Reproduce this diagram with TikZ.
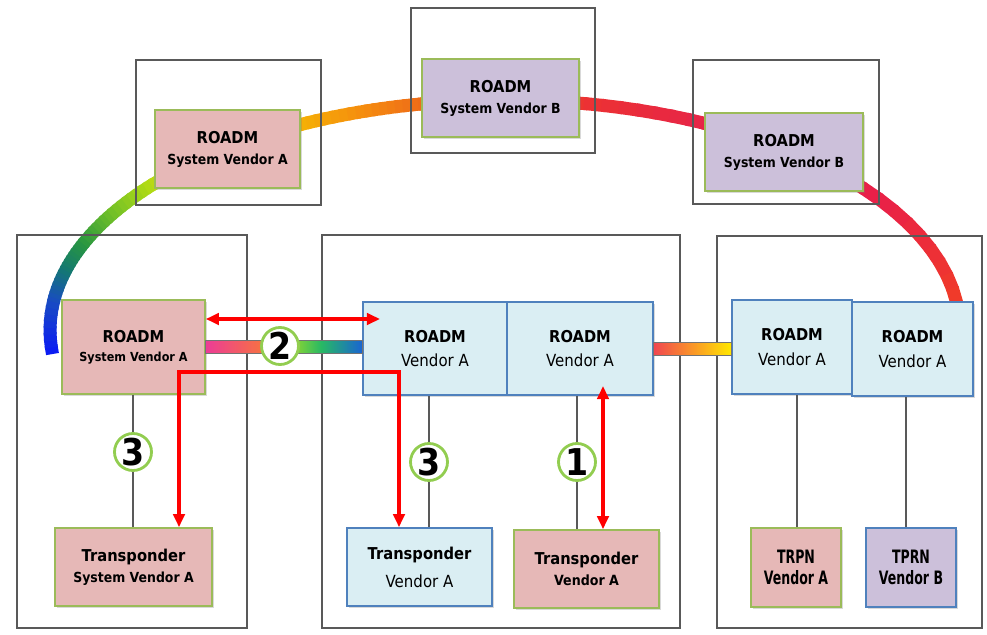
\documentclass[tikz,border=0pt]{standalone}
\usepackage{fontspec}
\setmainfont{DejaVu Sans}[FakeStretch=0.9]
\newfontfamily\narrowfont{DejaVu Sans}[FakeStretch=0.68]
\usetikzlibrary{arrows.meta,calc,shadows}

\definecolor{pinkfill}{RGB}{230,184,183}
\definecolor{lavfill}{RGB}{204,192,218}
\definecolor{bluefill}{RGB}{218,238,243}
\definecolor{greenedge}{RGB}{155,187,89}
\definecolor{blueedge}{RGB}{79,129,189}
\definecolor{sitegray}{RGB}{89,89,89}
\definecolor{numgreen}{RGB}{146,205,80}
% ring colours
\definecolor{rbA}{RGB}{10,25,245}
\definecolor{rbB}{RGB}{25,75,195}
\definecolor{rbC}{RGB}{20,120,115}
\definecolor{rbD}{RGB}{40,150,65}
\definecolor{rbE}{RGB}{110,190,40}
\definecolor{rbF}{RGB}{180,220,20}
\definecolor{rbG}{RGB}{245,178,5}
\definecolor{rbH}{RGB}{245,140,15}
\definecolor{rbI}{RGB}{238,105,25}
\definecolor{rbJ}{RGB}{236,50,50}
\definecolor{rbK}{RGB}{230,35,75}
\definecolor{rbL}{RGB}{232,32,72}
\definecolor{rbM}{RGB}{240,60,40}
% bar colours
\definecolor{barPink}{RGB}{236,60,150}
\definecolor{barOrange}{RGB}{250,130,40}
\definecolor{barLime}{RGB}{190,228,25}
\definecolor{barGreen}{RGB}{40,185,100}
\definecolor{barBlue}{RGB}{25,100,210}
\definecolor{barRed}{RGB}{240,70,80}
\definecolor{barAmber}{RGB}{250,150,40}
\definecolor{barYellow}{RGB}{255,232,0}

\newcommand{\boldln}[2]{{\fontsize{#1}{#1}\selectfont\bfseries #2}}
\newcommand{\plainln}[2]{{\fontsize{#1}{#1}\selectfont #2}}

\tikzset{
  site/.style={draw=sitegray, line width=0.85pt},
  dev/.style 2 args={rectangle, inner sep=0pt, align=center, line width=0.9pt,
    minimum width=#1*0.02cm, minimum height=#2*0.02cm,
    drop shadow={shadow xshift=1.2pt, shadow yshift=-1.4pt, opacity=0.3}},
  pinkbox/.style={fill=pinkfill, draw=greenedge},
  lavbox/.style={fill=lavfill, draw=greenedge},
  bluebox/.style={fill=bluefill, draw=blueedge},
  rowgap/.style={font=\fontsize{9}{#1}\selectfont},
  ring/.style={line width=0.26cm, line cap=butt},
  baredge/.style={draw=black!55, line width=0.5pt},
  conn/.style={draw=black!65, line width=0.75pt},
  num/.style={circle, draw=numgreen, line width=1.6pt, fill=white, minimum size=0.74cm,
    inner sep=0pt, font=\fontsize{21}{21}\selectfont\bfseries},
  redarr/.style={draw=red, line width=2.3pt, >={Triangle[length=7.5pt,width=6.5pt]}, <->}
}

\begin{document}
\begin{tikzpicture}[x=0.02cm, y=-0.02cm]
  \useasboundingbox (0,0) rectangle (987,635);

  % ring
  \foreach \ta/\tb/\ca/\cb in {186/173/rbA/rbB, 173/165/rbB/rbC, 165/158/rbC/rbD,
      158/150/rbD/rbE, 150/141/rbE/rbF, 141/117/rbF/rbG, 117/108/rbG/rbH,
      108/100/rbH/rbI, 100/80/rbI/rbJ, 80/62/rbJ/rbK, 62/35/rbK/rbL, 35/7/rbL/rbM} {
    \foreach \k in {0,...,7} {
      \pgfmathsetmacro{\tp}{\ta+(\tb-\ta)*\k/8}
      \pgfmathsetmacro{\tq}{\ta+(\tb-\ta)*(\k+1)/8-0.5}
      \pgfmathtruncatemacro{\mix}{100-(\k+0.5)*100/8}
      \draw[ring, draw=\ca!\mix!\cb] ({505+455*cos(\tp)},{330-230*sin(\tp)})
        -- ({505+455*cos(\tq)},{330-230*sin(\tq)});
    }
  }

  % sites
  \draw[site] (136,60) rectangle (321,205);
  \draw[site] (411,8) rectangle (595,153);
  \draw[site] (693,60) rectangle (879,204);
  \draw[site] (17,235) rectangle (247,628);
  \draw[site] (322,235) rectangle (680,628);
  \draw[site] (717,236) rectangle (982,628);

  % ROADMs
  \node[dev={145}{78}, pinkbox, rowgap=12pt] (tA) at (227.5,149)
    {\boldln{9.3}{ROADM}\\\boldln{7.9}{System Vendor A}};
  \node[dev={157}{78}, lavbox, rowgap=12pt] (tB) at (500.5,98)
    {\boldln{9.3}{ROADM}\\\boldln{7.9}{System Vendor B}};
  \node[dev={158}{78}, lavbox, rowgap=12pt] (tC) at (784,152)
    {\boldln{9.3}{ROADM}\\\boldln{7.9}{System Vendor B}};
  \node[dev={143}{94}, pinkbox, rowgap=10.8pt] (lR) at (133.5,347)
    {\boldln{9.3}{ROADM}\\\boldln{7.1}{System Vendor A}};
  \node[dev={144}{93}, bluebox, rowgap=13.8pt] (mA) at (435,348.5)
    {\boldln{9.3}{ROADM}\\\plainln{9.5}{Vendor A}};
  \node[dev={146}{93}, bluebox, rowgap=13.8pt] (mB) at (580,348.5)
    {\boldln{9.3}{ROADM}\\\plainln{9.5}{Vendor A}};
  \node[dev={120}{94}, bluebox, rowgap=14pt] (rA) at (792,347)
    {\boldln{9.3}{ROADM}\\\plainln{9.5}{Vendor A}};
  \node[dev={121}{94}, bluebox, rowgap=14pt] (rB) at (912.5,349)
    {\boldln{9.3}{ROADM}\\\plainln{9.5}{Vendor A}};

  % transponders
  \node[dev={157}{78}, pinkbox, rowgap=12pt] (lT) at (133.5,567)
    {\boldln{9.3}{Transponder}\\\boldln{7.9}{System Vendor A}};
  \node[dev={145}{78}, bluebox, rowgap=16pt] (mT) at (419.5,567)
    {\boldln{9.3}{Transponder}\\\plainln{9.5}{Vendor A}};
  \node[dev={145}{78}, pinkbox, rowgap=12pt] (pT) at (586.5,569)
    {\boldln{9.3}{Transponder}\\\boldln{8}{Vendor A}};
  \node[dev={90}{79}, pinkbox, rowgap=16pt, font=\narrowfont\bfseries] (rT1) at (796,567.5)
    {\boldln{10.5}{TRPN}\\\boldln{10.5}{Vendor A}};
  \node[dev={90}{79}, fill=lavfill, draw=blueedge, rowgap=16pt, font=\narrowfont\bfseries] (rT2) at (911,567.5)
    {\boldln{10.5}{TPRN}\\\boldln{10.5}{Vendor B}};

  % spots
  \coordinate (k2) at (280,346);
  \coordinate (k3a) at (133,452);
  \coordinate (k3b) at (429,462);
  \coordinate (k1) at (577,462);
  \coordinate (g4) at (797,460);
  \coordinate (g5) at (906,460);

  % rainbow links
  \shade[left color=barPink, right color=barOrange]
    ($(lR.east)+(0,-6.5)$) rectangle ($(lR.east -| k2)+(0,6.5)$);
  \shade[left color=barLime, right color=barBlue, middle color=barGreen]
    ($(lR.east -| k2)+(0,-6.5)$) rectangle ($(mA.west |- lR.east)+(0,6.5)$);
  \draw[baredge] ($(lR.east)+(0,-6.5)$) rectangle ($(mA.west |- lR.east)+(0,6.5)$);
  \shade[left color=barRed, right color=barYellow, middle color=barAmber]
    ($(mB.east)+(0,-6.5)$) rectangle ($(rA.west |- mB.east)+(0,6.5)$);
  \draw[baredge] ($(mB.east)+(0,-6.5)$) rectangle ($(rA.west |- mB.east)+(0,6.5)$);

  % drops
  \draw[conn] (lR.south -| k3a) -- (lT.north -| k3a);
  \draw[conn] (mA.south -| k3b) -- (mT.north -| k3b);
  \draw[conn] (mB.south -| k1) -- (pT.north -| k1);
  \draw[conn] (rA.south -| g4) -- (rT1.north -| g4);
  \draw[conn] (rB.south -| g5) -- (rT2.north -| g5);

  \node[num] (n2) at (k2) {2};
  \node[num] (n3a) at (k3a) {3};
  \node[num] (n3b) at (k3b) {3};
  \node[num] (n1) at (k1) {1};

  % red paths
  \coordinate (r1) at (380,319);
  \coordinate (r2) at (179,372);
  \coordinate (r3) at (399,372);
  \coordinate (r4) at (603,386);
  \draw[redarr] (lR.east |- r1) -- (r1);
  \draw[redarr] (lT.north -| r2) -- (r2) -- (r3) -- (mT.north -| r3);
  \draw[redarr] (r4) -- (pT.north -| r4);
\end{tikzpicture}
\end{document}
